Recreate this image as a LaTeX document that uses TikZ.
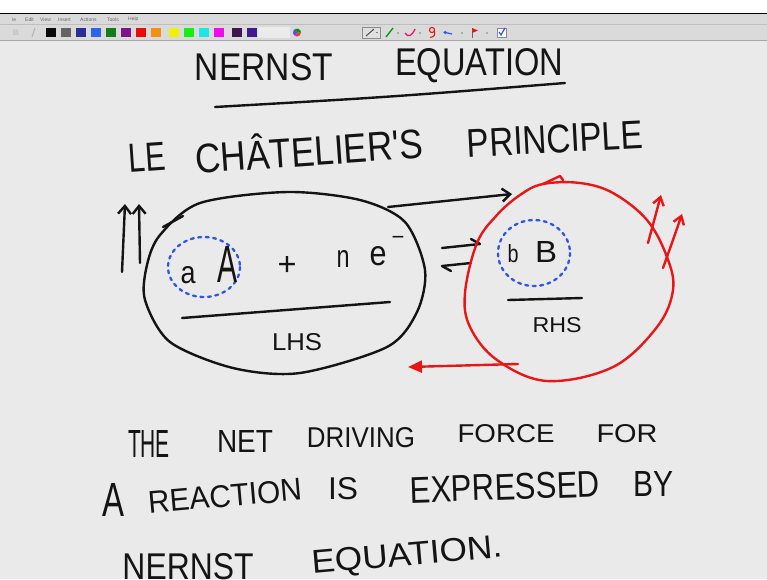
\documentclass[tikz,border=0pt]{standalone}
\usepackage{fontspec}
\usepackage{graphicx}
\newfontfamily\hand{Liberation Sans}
\usetikzlibrary{arrows.meta}
\definecolor{bg}{RGB}{234,234,234}
\definecolor{tb}{RGB}{218,218,218}
\definecolor{inkc}{RGB}{20,20,20}
\definecolor{redc}{RGB}{232,22,22}
\definecolor{bluec}{RGB}{45,85,230}
\definecolor{swA}{RGB}{10,10,10}
\definecolor{swB}{RGB}{100,100,100}
\definecolor{swC}{RGB}{45,45,150}
\definecolor{swD}{RGB}{45,100,235}
\definecolor{swE}{RGB}{20,125,25}
\definecolor{swF}{RGB}{125,20,135}
\definecolor{swG}{RGB}{235,10,10}
\definecolor{swH}{RGB}{240,145,20}
\definecolor{swI}{RGB}{240,240,10}
\definecolor{swJ}{RGB}{20,240,20}
\definecolor{swK}{RGB}{30,230,230}
\definecolor{swL}{RGB}{240,10,240}
\definecolor{swM}{RGB}{65,20,75}
\definecolor{swN}{RGB}{65,25,145}
\newcommand\hw[3]{\resizebox{#1pt}{#2pt}{\hand #3}}
\begin{document}
\begin{tikzpicture}[x=1pt,y=-1pt,
  ink/.style={draw=inkc,line width=2.4pt,line cap=round,line join=round},
  redink/.style={draw=redc,line width=2.4pt,line cap=round,line join=round},
  bluedash/.style={draw=bluec,line width=2.3pt,line cap=round,dash pattern=on 3pt off 4.5pt},
  word/.style={inner sep=0pt,text=inkc},
  menu/.style={inner sep=0pt,anchor=west,text=black!60,font=\hand\fontsize{5}{5}\selectfont},
  barb/.style={-{Straight Barb[length=8pt,width=13pt]}}]
\useasboundingbox (0,0) rectangle (767,579);
% window chrome
\fill[white] (0,0) rectangle (767,13);
\fill[tb] (0,14) rectangle (767,40);
\fill[bg] (0,40) rectangle (767,579);
\draw[black,line width=1.6pt] (0,13.3) -- (767,13.3);
\draw[black!25,line width=0.6pt] (0,24.5) -- (767,24.5);
\draw[black!35,line width=0.8pt] (0,40) -- (767,40);
% menu
\node[menu] (m1) at (12,19.5) {le};
\node[menu] (m2) at (25,19.5) {Edit};
\node[menu] (m3) at (40,19.5) {View};
\node[menu] (m4) at (58,19.5) {Insert};
\node[menu] (m5) at (80,19.5) {Actions};
\node[menu] (m6) at (107,19.5) {Tools};
\node[menu] (m7) at (128,19.5) {Help};
% disabled icons
\node[inner sep=0pt,text=black!25,font=\hand\bfseries\fontsize{8}{8}\selectfont] (ib) at (16,32.5) {B};
\draw[black!30,line width=1pt] (32,37) -- (35,28);
% swatches
\foreach \xx/\cc in {46/swA,61/swB,76/swC,91/swD,106/swE,121/swF,136/swG,151/swH,169/swI,184/swJ,199/swK,214/swL,232/swM,247/swN}
  \fill[\cc] (\xx,28) rectangle ++(10,9);
\fill[black!8] (258,27) rectangle (290,38);
% colour wheel
\fill[red!80] (297,32.5) -- ++(0:4) arc (0:120:4) -- cycle;
\fill[blue!70] (297,32.5) -- ++(120:4) arc (120:240:4) -- cycle;
\fill[green!60!black] (297,32.5) -- ++(240:4) arc (240:360:4) -- cycle;
% tools
\draw[black!45,fill=black!12] (362,27) rectangle (380,38);
\draw[black!70,line width=1pt] (366,36) -- (374,29);
\draw[black!50] (376,32) -- (378,32);
\draw[green!60!black,line width=1.3pt] (386,37) -- (393,28);
\fill[black!50] (398,33) circle (0.8);
\draw[magenta!70!red,line width=1.2pt] (405,33) .. controls (408,38) and (412,36) .. (415,29);
\fill[black!50] (420,33) circle (0.8);
\draw[redc,line width=1.1pt] (432,30) circle (2.6);
\draw[redc,line width=1.1pt] (434.5,30) .. controls (435,36) .. (430,37.5);
\draw[bluec,line width=1.2pt,-{Latex[length=3pt,width=4pt]}] (452,34) -- (443,32);
\fill[black!50] (462,33) circle (0.8);
\draw[black!60,line width=0.8pt] (472,28) -- (472,38);
\fill[redc] (472,28) -- (478,30.5) -- (472,33) -- cycle;
\fill[black!50] (487,33) circle (0.8);
\draw[black!45,fill=white] (497,28) rectangle (506,37);
\draw[bluec,line width=1.2pt] (499,32) -- (501,35) -- (505,28);
% title
\node[word] (t1) at (264,67) {\hw{138}{27}{NERNST}};
\node[word] (t2) at (479,66) {\hw{168}{27}{EQUATION}};
\draw[ink] (215,107) .. controls (390,97) .. (565,83);
% Le Chatelier
\node[word,rotate=4] (lc1) at (147,157) {\hw{37}{28}{LE}};
\node[word,rotate=4] (lc2) at (309,148) {\hw{228}{36}{CHÂTELIER'S}};
\node[word,rotate=3] (lc3) at (555,139) {\hw{176}{28}{PRINCIPLE}};
% left ellipse
\draw[ink] plot[smooth cycle] coordinates {(160,235) (200,203) (287,192) (360,200) (405,222) (425,270) (417,312) (387,347) (300,373) (233,368) (170,342) (145,300) (147,265)};
\draw[ink] (163,227) -- (183,216);
\draw[bluedash] (204,267) ellipse [x radius=36, y radius=30];
\node[word] (la) at (188,275) {\hw{15}{17}{a}};
\node[word] (lA) at (227,264) {\hw{20}{36}{A}};
\node[word] (lplus) at (287,266) {\hw{19}{19}{+}};
\node[word] (ln) at (343,259) {\hw{13}{17}{n}};
\node[word] (le) at (378,256) {\hw{17}{19}{e}};
\node[word] (lminus) at (398,240) {\hand\fontsize{22}{22}\selectfont −};
\draw[ink] (182,318) -- (390,302);
\node[word] (lhs) at (297,342) {\hw{50}{17}{LHS}};
% up arrows
\coordinate (u1a) at (122,272);
\coordinate (u1b) at (125,204);
\coordinate (u2a) at (140,263);
\coordinate (u2b) at (139,204);
\draw[ink,barb] (u1a) -- (u1b);
\draw[ink,barb] (u2a) -- (u2b);
% forward arrow from LHS to RHS
\coordinate (lhsTop) at (388,207);
\coordinate (rhsTip) at (512,194);
\draw[ink,barb] (lhsTop) -- (rhsTip);
% equilibrium harpoons
\coordinate (h1a) at (442,248);
\coordinate (h1b) at (480,244);
\coordinate (h2a) at (471,263);
\coordinate (h2b) at (442,266);
\draw[ink] (h1a) -- (h1b) -- ++(-9,-5);
\draw[ink] (h2a) -- (h2b) -- ++(9,5);
% red circle
\draw[redink] plot[smooth cycle, tension=0.6] coordinates {(543,184) (580,183) (613,193) (647,220) (667,257) (673,290) (657,327) (613,367) (547,381) (497,360) (470,327) (465,293) (477,243) (497,215) (520,195)};
\draw[redink] (543,184) -- (560,176) -- (563,180);
\draw[bluedash] (534,253) ellipse [x radius=36, y radius=33];
\node[word] (rb) at (513,254) {\hw{11}{18}{b}};
\node[word] (rB) at (546,252) {\hw{22}{21}{B}};
\draw[ink] (508,300) -- (582,298);
\node[word] (rhs) at (557,325) {\hw{49}{15}{RHS}};
% red arrows
\coordinate (r1a) at (648,243);
\coordinate (r1b) at (661,195);
\coordinate (r2a) at (663,268);
\coordinate (r2b) at (682,214);
\coordinate (rbA) at (518,364);
\coordinate (rbB) at (408,367);
\draw[redink,-{Straight Barb[length=8pt,width=11pt]}] (r1a) -- (r1b);
\draw[redink,-{Straight Barb[length=8pt,width=11pt]}] (r2a) .. controls (673,240) .. (r2b);
\draw[redink,-{Triangle[length=14pt,width=12pt]}] (rbA) -- (rbB);
% bottom text
\node[word] (b1) at (149,444) {\hw{42}{27}{THE}};
\node[word] (b2) at (245,441) {\hw{56}{22}{NET}};
\node[word] (b3) at (361,438) {\hw{108}{20}{DRIVING}};
\node[word] (b4) at (506,434) {\hw{97}{18}{FORCE}};
\node[word] (b5) at (627,434) {\hw{61}{18}{FOR}};
\node[word] (b6) at (113,500) {\hw{22}{33}{A}};
\node[word,rotate=5] (b7) at (225,496) {\hw{154}{22}{REACTION}};
\node[word] (b8) at (343,489) {\hw{30}{22}{IS}};
\node[word,rotate=2] (b9) at (505,487) {\hw{190}{26}{EXPRESSED}};
\node[word] (b10) at (653,484) {\hw{40}{25}{BY}};
\node[word] (b11) at (188,567) {\hw{131}{26}{NERNST}};
\node[word,rotate=5] (b12) at (407,557) {\hw{191}{23}{EQUATION.}};
\end{tikzpicture}
\end{document}
